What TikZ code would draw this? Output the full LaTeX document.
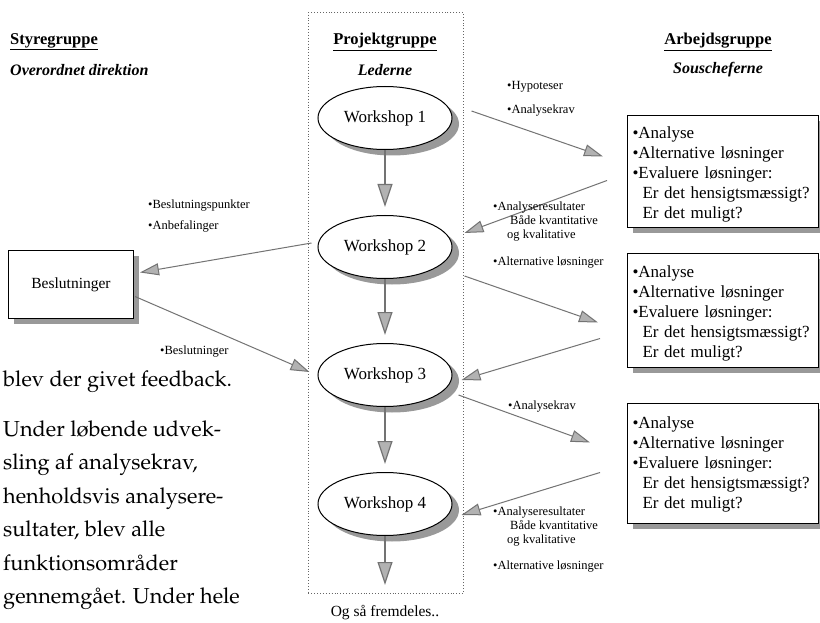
\documentclass[tikz,border=0pt]{standalone}
\usepackage[T1]{fontenc}
\usepackage{fontspec}
\setmainfont{Liberation Serif}
\usetikzlibrary{shapes.geometric,arrows.meta,calc}
\newcommand\palfont{\fontencoding{T1}\fontfamily{ppl}\fontsize{21.7}{33.5}\selectfont}
\colorlet{shadowc}{black!40}
\colorlet{arrowc}{black!55}
\tikzset{
  every node/.style={inner sep=0pt},
  heading/.style={font=\bfseries\fontsize{16.5}{19}\selectfont},
  subheading/.style={font=\bfseries\itshape\fontsize{16}{19}\selectfont},
  small/.style={font=\fontsize{12.5}{14}\selectfont, align=left, anchor=west},
  wshop/.style={ellipse, draw, line width=1pt, fill=white, minimum width=134, minimum height=63,
    font=\fontsize{17}{19}\selectfont},
  rbox/.style={draw, fill=white, line width=1pt, anchor=north west, minimum width=191},
  rtext/.style={align=left, text width=181, font=\fontsize{17}{20}\selectfont},
  bbox/.style={draw, fill=white, line width=1pt, anchor=north west, minimum width=125, minimum height=68,
    font=\fontsize{15.5}{17}\selectfont},
  garrow/.style={draw=arrowc, line width=1pt, -{Triangle[length=19pt,width=12pt,fill=shadowc!75]}},
  varrow/.style={draw=arrowc, line width=1.2pt, -{Triangle[length=23pt,width=15pt,fill=shadowc!75]}},
  bodyline/.style={anchor=base west, font=\palfont}
}
\newcommand\boxlines{\textbullet Analyse\\ \textbullet Alternative løsninger\\ \textbullet Evaluere løsninger:\\ \hspace*{10pt}Er det hensigtsmæssigt?\\ \hspace*{10pt}Er det muligt?}
\begin{document}
\begin{tikzpicture}[x=1pt,y=-1pt]
\fill[white] (0,0) rectangle (820,623);
\useasboundingbox (0,0) rectangle (820,623);

% project group frame
\node[draw=black!60, dotted, line width=0.9pt, anchor=north west, minimum width=155, minimum height=581] (proj) at (308,12) {};

% headings
\node[heading, anchor=west] (styr) at (10,42) {\underline{Styregruppe}};
\node[subheading, anchor=west] (overd) at (10,70) {Overordnet direktion};
\node[heading] (projh) at (385,42) {\underline{Projektgruppe}};
\node[subheading] (led) at (385,70) {Lederne};
\node[heading] (arbh) at (718,42) {\underline{Arbejdsgruppe}};
\node[subheading] (sous) at (718,70) {Souscheferne};

% shadows
\foreach \cy in {118,247,375,504}
  \fill[shadowc] (392,\cy+6) ellipse [x radius=67, y radius=31.5];
\fill[shadowc] (633,121) rectangle (826,233);
\fill[shadowc] (633,259) rectangle (826,373);
\fill[shadowc] (633,409) rectangle (826,529);
\fill[shadowc] (14,256) rectangle (139,324);

% workshops
\node[wshop] (w1) at (385,118) {Workshop 1};
\node[wshop] (w2) at (385,247) {Workshop 2};
\node[wshop] (w3) at (385,375) {Workshop 3};
\node[wshop] (w4) at (385,504) {Workshop 4};
\coordinate (etc) at (385,585);
\node[font=\fontsize{15.5}{18}\selectfont] (fremd) at (385,613) {Og så fremdeles..};

% vertical arrows
\draw[varrow, shorten >=8pt] (w1) -- (w2);
\draw[varrow, shorten >=8pt] (w2) -- (w3);
\draw[varrow, shorten >=8pt] (w3) -- (w4);
\draw[varrow] (w4) -- (etc);

% right boxes
\node[rbox, minimum height=112] (box1) at (627,115) {};
\node[rbox, minimum height=114] (box2) at (627,253) {};
\node[rbox, minimum height=120] (box3) at (627,403) {};
\node[rtext] (box1t) at ($(box1.center)+(0,3)$) {\boxlines};
\node[rtext] (box2t) at ($(box2.center)+(0,3)$) {\boxlines};
\node[rtext] (box3t) at ($(box3.center)+(0,1)$) {\boxlines};

% decisions box
\node[bbox] (besl) at (8,250) {Beslutninger};

% diagonal arrows
\draw[garrow] ($(w1.east)+(19,-7)$) -- ($(box1.west)+(-24,-15)$);
\draw[garrow] ($(box1.west)+(-20,9)$) -- ($(w2.east)+(12,-14)$);
\draw[garrow] ($(w2.west)+(-6,-4)$) -- ($(besl.east)+(6,-12)$);
\draw[garrow] ($(besl.east)+(1,12)$) -- ($(w3.west)+(-8,-3)$);
\draw[garrow] ($(w2.east)+(12,29)$) -- ($(box2.west)+(-29,12)$);
\draw[garrow] ($(box2.west)+(-27,28)$) -- ($(w3.east)+(9,5)$);
\draw[garrow] ($(w3.east)+(6,20)$) -- ($(box3.west)+(-37,-21)$);
\draw[garrow] ($(box3.west)+(-27,9)$) -- ($(w4.east)+(9,11)$);

% small labels
\node[small] (l1) at (507,87) {\textbullet Hypoteser};
\node[small] (l2) at (507,111) {\textbullet Analysekrav};
\node[small] (l3) at (148,206) {\textbullet Beslutningspunkter};
\node[small] (l4) at (148,226) {\textbullet Anbefalinger};
\node[small] (l5) at (493,222) {\textbullet Analyseresultater\\ \hspace*{17pt}Både kvantitative\\ \hspace*{14pt}og kvalitative};
\node[small] (l6) at (493,263) {\textbullet Alternative løsninger};
\node[small] (l7) at (160,352) {\textbullet Beslutninger};
\node[small] (l8) at (508,407) {\textbullet Analysekrav};
\node[small] (l9) at (493,527) {\textbullet Analyseresultater\\ \hspace*{17pt}Både kvantitative\\ \hspace*{14pt}og kvalitative};
\node[small] (l10) at (493,567) {\textbullet Alternative løsninger};

% body text
\node[bodyline] (t1) at (3,386) {blev der givet feedback.};
\node[bodyline] (t2) at (3,436) {Under l\o bende udvek-};
\node[bodyline] (t3) at (3,469) {sling af analysekrav,};
\node[bodyline] (t4) at (3,503) {henholdsvis analysere-};
\node[bodyline] (t5) at (3,536) {sultater, blev alle};
\node[bodyline] (t6) at (3,570) {funktionsomr\aa der};
\node[bodyline] (t7) at (3,603) {gennemg\aa et. Under hele};
\end{tikzpicture}
\end{document}
